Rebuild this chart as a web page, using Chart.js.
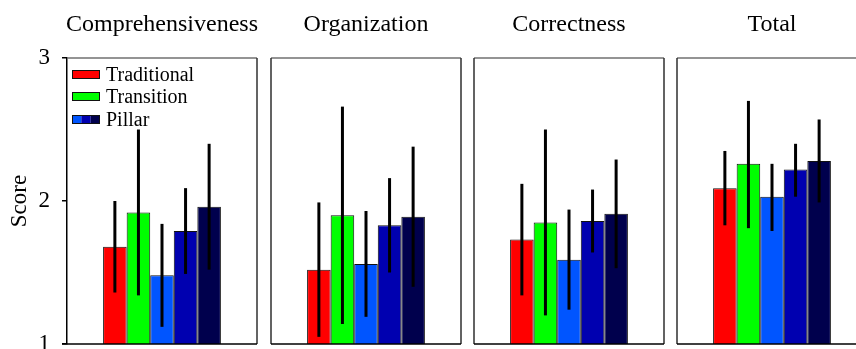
<!DOCTYPE html>
<html>
<head>
<meta charset="utf-8">
<script src="https://cdn.jsdelivr.net/npm/chart.js@4.4.0/dist/chart.umd.min.js"></script>
<style>
  html, body { margin: 0; padding: 0; background: #fff; width: 856px; height: 349px; overflow: hidden; }
  #wrap { position: relative; width: 856px; height: 349px; overflow: hidden; }
  canvas { position: absolute; top: 0; }
  .ttl { position: absolute; top: 9px; font-family: "Liberation Serif", "Times New Roman", serif; font-size: 24px; line-height: 28px; color: #000; text-align: center; white-space: nowrap; }
</style>
</head>
<body>
<div id="wrap"></div>
<script>
// ---- data ----
const panels = ["Comprehensiveness", "Organization", "Correctness", "Total"];
const seriesNames = ["Traditional", "Transition", "Pillar 1", "Pillar 2", "Pillar 3"];
const legendNames = ["Traditional", "Transition", "Pillar"];
// mean values per panel (order: Traditional, Transition, Pillar 1, Pillar 2, Pillar 3)
const comprehensiveness = [1.68, 1.92, 1.48, 1.79, 1.96];
const organization      = [1.52, 1.90, 1.56, 1.83, 1.89];
const correctness       = [1.73, 1.85, 1.59, 1.86, 1.91];
const total             = [2.09, 2.26, 2.03, 2.22, 2.28];
// error bar ends
const comprehensivenessLow  = [1.36, 1.34, 1.12, 1.49, 1.52];
const comprehensivenessHigh = [2.00, 2.50, 1.84, 2.09, 2.40];
const organizationLow  = [1.05, 1.14, 1.19, 1.50, 1.40];
const organizationHigh = [1.99, 2.66, 1.93, 2.16, 2.38];
const correctnessLow  = [1.34, 1.20, 1.24, 1.64, 1.53];
const correctnessHigh = [2.12, 2.50, 1.94, 2.08, 2.29];
const totalLow  = [1.83, 1.81, 1.79, 2.03, 1.99];
const totalHigh = [2.35, 2.70, 2.26, 2.40, 2.57];
const yTicks = [1, 2, 3];

const values = [comprehensiveness, organization, correctness, total];
const lows = [comprehensivenessLow, organizationLow, correctnessLow, totalLow];
const highs = [comprehensivenessHigh, organizationHigh, correctnessHigh, totalHigh];

const colors = ["#FF0000", "#00FF00", "#0055FF", "#0000B0", "#00004D"];
const serif = '"Liberation Serif", "Times New Roman", serif';

const panelLeft = [67, 271, 474, 677];
const panelWidth = 190;
const plotTop = 58, plotBottom = 344, H = 349;

const wrap = document.getElementById('wrap');

const errorBars = {
  id: 'errorBars',
  afterDatasetsDraw(chart) {
    const ctx = chart.ctx, ys = chart.scales.y;
    ctx.save();
    ctx.strokeStyle = '#000';
    ctx.lineWidth = 3;
    chart.data.datasets.forEach((ds, i) => {
      const el = chart.getDatasetMeta(i).data[0];
      if (!el) return;
      ctx.beginPath();
      ctx.moveTo(el.x, ys.getPixelForValue(ds.lo));
      ctx.lineTo(el.x, ys.getPixelForValue(ds.hi));
      ctx.stroke();
    });
    ctx.restore();
  }
};

const frame = {
  id: 'frame',
  afterDraw(chart, args, opts) {
    const {ctx, chartArea: a} = chart;
    ctx.save();
    ctx.lineWidth = 1.5;
    ctx.strokeStyle = '#707070';
    ctx.beginPath();
    ctx.moveTo(a.left, a.top); ctx.lineTo(a.right, a.top);
    ctx.stroke();
    ctx.strokeStyle = '#303030';
    ctx.beginPath();
    ctx.moveTo(a.right, a.top); ctx.lineTo(a.right, a.bottom);
    if (!opts.first) { ctx.moveTo(a.left, a.top); ctx.lineTo(a.left, a.bottom); }
    ctx.stroke();
    ctx.strokeStyle = '#000';
    ctx.beginPath();
    ctx.moveTo(a.left - (opts.first ? 5 : 0), a.bottom); ctx.lineTo(a.right, a.bottom);
    ctx.stroke();
    ctx.restore();
  }
};

const legendPlugin = {
  id: 'customLegend',
  afterDraw(chart, args, opts) {
    if (!opts.show) return;
    const ctx = chart.ctx;
    const x0 = 72, sw = 28, sh = 9;
    const tops = [70, 92, 115];
    const fills = [[colors[0]], [colors[1]], [colors[2], colors[3], colors[4]]];
    ctx.save();
    legendNames.forEach((name, i) => {
      const f = fills[i];
      const segW = sw / f.length;
      f.forEach((c, j) => {
        ctx.fillStyle = c;
        ctx.fillRect(x0 + j * segW, tops[i], segW, sh);
      });
      ctx.strokeStyle = '#111';
      ctx.lineWidth = 1;
      ctx.strokeRect(x0 + 0.5, tops[i] + 0.5, sw - 1, sh - 1);
      ctx.fillStyle = '#000';
      ctx.font = '20px ' + serif;
      ctx.textBaseline = 'middle';
      ctx.fillText(name, x0 + sw + 6, tops[i] + sh / 2 + 1);
    });
    ctx.restore();
  }
};

panels.forEach((name, p) => {
  const first = p === 0;
  const cv = document.createElement('canvas');
  const left = first ? 0 : panelLeft[p] - 2;
  const right = panelLeft[p] + panelWidth + 2;
  const w = right - left;
  cv.width = w; cv.height = H;
  cv.style.left = left + 'px';
  cv.style.width = w + 'px'; cv.style.height = H + 'px';
  wrap.appendChild(cv);

  const t = document.createElement('div');
  t.className = 'ttl';
  t.textContent = name;
  t.style.left = (panelLeft[p] + panelWidth / 2 - 150) + 'px';
  t.style.width = '300px';
  wrap.appendChild(t);

  new Chart(cv, {
    type: 'bar',
    data: {
      labels: [name],
      datasets: seriesNames.map((s, i) => ({
        label: s,
        data: [values[p][i]],
        lo: lows[p][i],
        hi: highs[p][i],
        backgroundColor: colors[i],
        borderColor: '#111',
        borderWidth: 1,
        borderSkipped: 'bottom',
        categoryPercentage: 0.62,
        barPercentage: 1.0
      }))
    },
    options: {
      responsive: false,
      animation: false,
      devicePixelRatio: 1,
      layout: { padding: { left: first ? 0 : 2, right: 2, top: plotTop, bottom: H - plotBottom } },
      plugins: {
        legend: { display: false },
        tooltip: { enabled: false },
        title: { display: false },
        frame: { first },
        customLegend: { show: first }
      },
      scales: {
        x: { display: false },
        y: {
          display: first,
          min: 1, max: 3,
          afterFit: (s) => {
            if (first) s.width = 67;
            s.paddingTop = 0; s.paddingBottom = 0;
          },
          afterBuildTicks: (s) => { s.ticks = yTicks.map(v => ({ value: v })); },
          ticks: {
            color: '#000',
            padding: 12,
            font: { family: serif, size: 23 },
            callback: (v) => String(v)
          },
          grid: { drawOnChartArea: false, tickLength: 5, color: '#000', lineWidth: 1.5 },
          border: { display: true, color: '#000', width: 1.5 },
          title: {
            display: true,
            text: 'Score',
            color: '#000',
            font: { family: serif, size: 23 },
            padding: { top: 6, bottom: 0 }
          }
        }
      }
    },
    plugins: [errorBars, frame, legendPlugin]
  });
});
</script>
</body>
</html>
